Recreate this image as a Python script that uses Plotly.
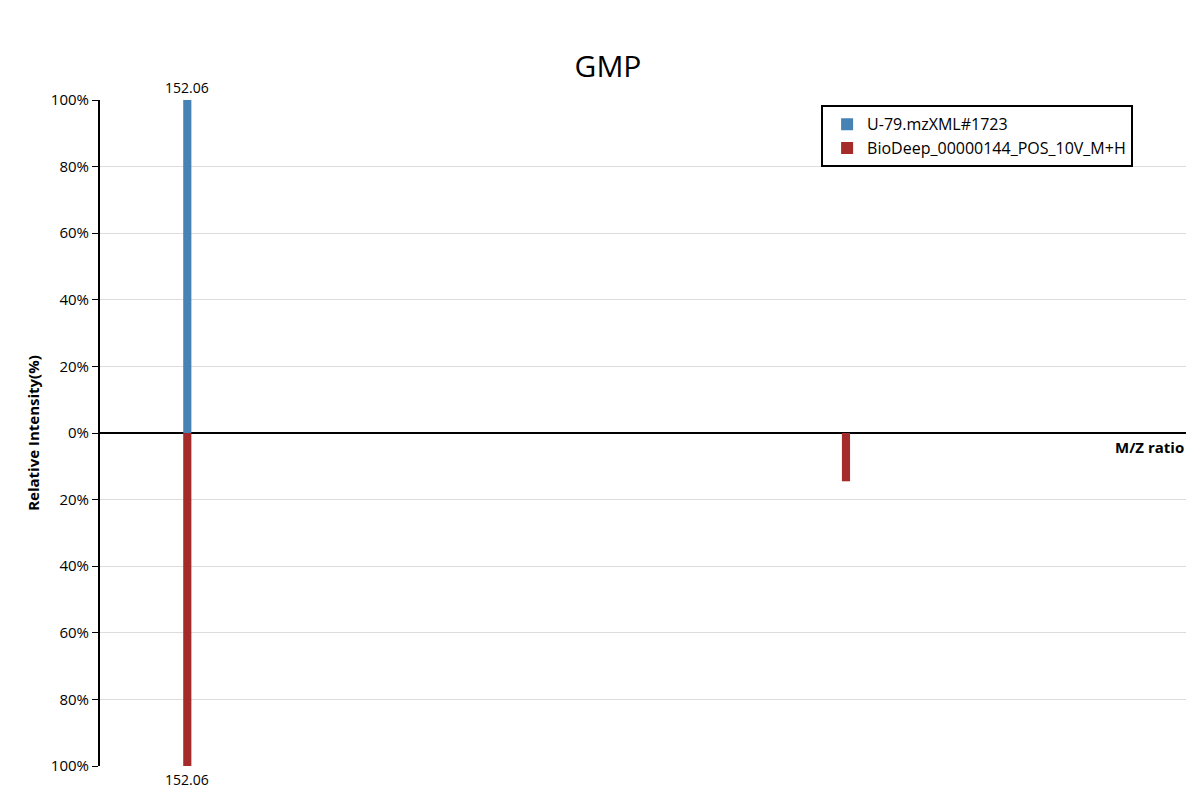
import plotly.graph_objects as go

sample_mz = [152.06]
sample_int = [100]
ref_mz = [152.06, 346.05]
ref_int = [100, 14.5]
tick_vals = [-100, -80, -60, -40, -20, 0, 20, 40, 60, 80, 100]
tick_text = ["100%", "80%", "60%", "40%", "20%", "0%", "20%", "40%", "60%", "80%", "100%"]

font = "Open Sans, Noto Sans, sans-serif"
fig = go.Figure()
fig.add_trace(go.Bar(x=sample_mz, y=sample_int, width=2.4, marker_color="#4682b4",
                     name="U-79.mzXML#1723"))
fig.add_trace(go.Bar(x=ref_mz, y=[-v for v in ref_int], width=2.4, marker_color="#a52a2a",
                     name="BioDeep_00000144_POS_10V_M+H"))

fig.add_annotation(x=sample_mz[0], y=sample_int[0], text="152.06", showarrow=False,
                   yanchor="bottom", yshift=1, font=dict(size=14))
fig.add_annotation(x=ref_mz[0], y=-ref_int[0], text="152.06", showarrow=False,
                   yanchor="top", yshift=-2, font=dict(size=14))
fig.add_annotation(x=1, xref="paper", y=0, text="<b>M/Z ratio</b>", showarrow=False,
                   xanchor="right", yanchor="top", yshift=-2, font=dict(size=15))

fig.update_layout(
    width=1200, height=800, template="none", barmode="overlay",
    font=dict(family=font, size=15, color="black"),
    title=dict(text="GMP", x=0.5, xanchor="center", y=0.94, font=dict(size=30)),
    margin=dict(l=92, r=22, t=92, b=42),
    plot_bgcolor="white", paper_bgcolor="white",
    xaxis=dict(range=[126.35, 446.19], showticklabels=False, showgrid=False,
               zeroline=False, showline=False),
    yaxis=dict(range=[-100, 100], tickvals=tick_vals, ticktext=tick_text,
               showgrid=True, gridcolor="#dddddd", zeroline=True, zerolinecolor="black",
               zerolinewidth=2, showline=True, linecolor="black", linewidth=2,
               ticks="outside", ticklen=6, tickcolor="black",
               title=dict(text="<b>Relative Intensity(%)</b>", font=dict(size=15), standoff=8)),
    legend=dict(x=0.664, y=0.992, xanchor="left", yanchor="top", bordercolor="black",
                borderwidth=2, bgcolor="white", font=dict(size=16),
                tracegroupgap=8, itemsizing="constant", entrywidth=330,
                indentation=4),
)
fig.write_html("out.html")
